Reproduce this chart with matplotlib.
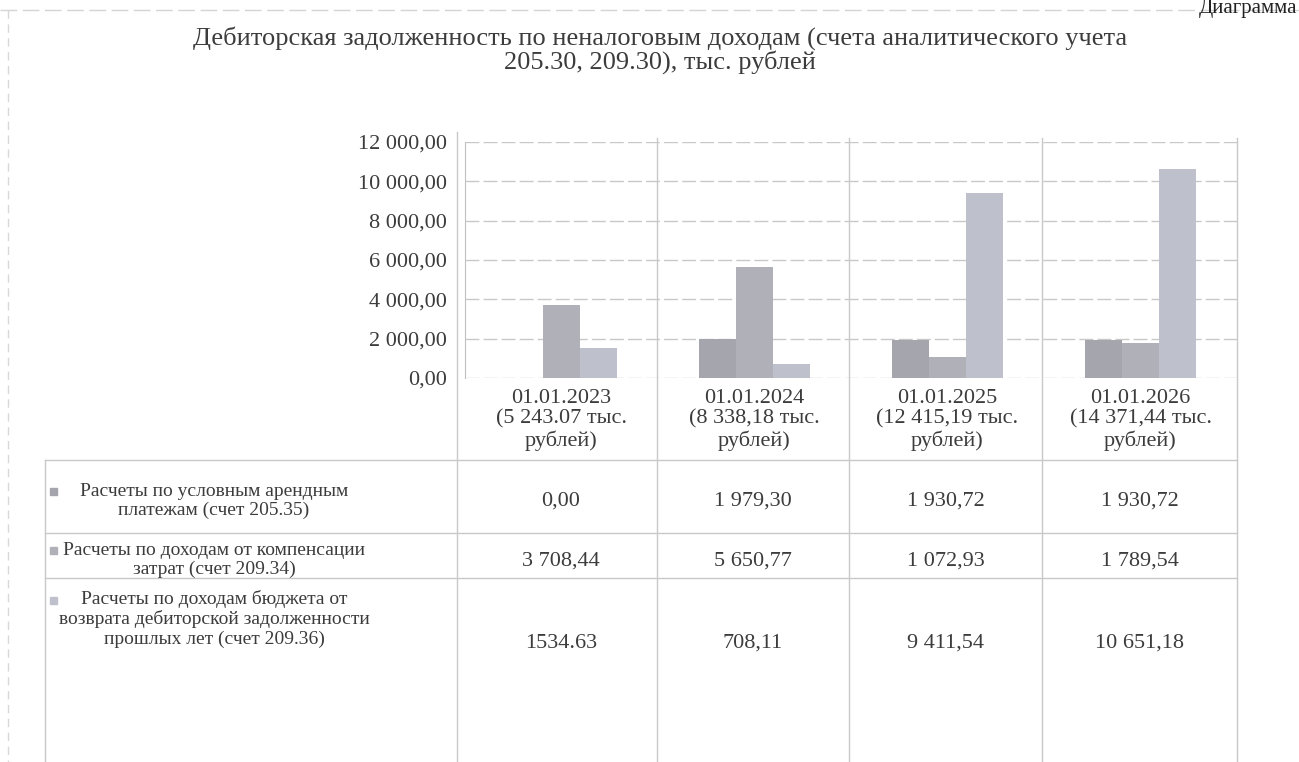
import matplotlib
matplotlib.use("Agg")
import matplotlib.pyplot as plt
from matplotlib.ticker import FuncFormatter, FixedLocator
import numpy as np

# ---- data ----
categories = ["01.01.2023\n(5 243.07 тыс.\nрублей)",
              "01.01.2024\n(8 338,18 тыс.\nрублей)",
              "01.01.2025\n(12 415,19 тыс.\nрублей)",
              "01.01.2026\n(14 371,44 тыс.\nрублей)"]
series_names = ["Расчеты по условным арендным\nплатежам (счет 205.35)",
                "Расчеты по доходам от компенсации\nзатрат (счет 209.34)",
                "Расчеты по доходам бюджета от\nвозврата дебиторской задолженности\nпрошлых лет (счет 209.36)"]
rent = [0.00, 1979.30, 1930.72, 1930.72]
compensation = [3708.44, 5650.77, 1072.93, 1789.54]
past_years = [1534.63, 708.11, 9411.54, 10651.18]
table_text = [["0,00", "1 979,30", "1 930,72", "1 930,72"],
              ["3 708,44", "5 650,77", "1 072,93", "1 789,54"],
              ["1534.63", "708,11", "9 411,54", "10 651,18"]]
title = "Дебиторская задолженность по неналоговым доходам (счета аналитического учета\n205.30, 209.30), тыс. рублей"
header = "Диаграмма"
y_ticks = [0, 2000, 4000, 6000, 8000, 10000, 12000]

# ---- style ----
plt.rcParams['font.family'] = ['Liberation Serif', 'DejaVu Serif']
W, H = 1299, 762
fig = plt.figure(figsize=(W / 100, H / 100), dpi=100)
txt = "#3c3c3c"
line_c = "#c8c8c8"
colors = ["#a5a5ad", "#b0b0b9", "#bec1cc"]

# overlay in pixel coords
ov = fig.add_axes([0, 0, 1, 1])
ov.set_xlim(0, W)
ov.set_ylim(H, 0)
ov.axis("off")

# plot area (pixels)
px_l, px_r, px_t, px_b = 465, 1237, 142, 378
ax = fig.add_axes([px_l / W, 1 - px_b / H, (px_r - px_l) / W, (px_b - px_t) / H])
ax.set_xlim(0, 4)
ax.set_ylim(0, 12000)
x = np.arange(4) + 0.5
bw = 0.192
for i, vals in enumerate([rent, compensation, past_years]):
    ax.bar(x + (i - 1) * bw, vals, width=bw, color=colors[i], edgecolor="none", zorder=3)
ax.yaxis.set_major_locator(FixedLocator(y_ticks))
ax.yaxis.set_major_formatter(FuncFormatter(lambda v, p: f"{v:,.2f}".replace(",", " ").replace(".", ",")))
ax.grid(axis="y", color=line_c, lw=1.0, ls=(0, (10, 3)), zorder=0)
ax.tick_params(axis="y", length=0, labelsize=16, labelcolor=txt, pad=13)
ax.set_xticks(x)
ax.set_xticklabels(categories, fontsize=16, color=txt, linespacing=1.1)
ax.tick_params(axis="x", length=0, pad=8)
for s in ["top", "right", "bottom"]:
    ax.spines[s].set_visible(False)
ax.spines["left"].set_color("#c0c0c0")
ax.patch.set_alpha(0)

# title
fig.text(0.508, 1 - 50 / H, title, ha="center", va="center", fontsize=19,
         color=txt, linespacing=1.0)
# header at the top right (cut off in the scan)
fig.text(1297 / W, 1 - 9 / H, header, ha="right", va="center", fontsize=15, color="#222222")
ov.plot([0, W], [10, 10], color="#d4d4d4", lw=1, ls=(0, (12, 4)))
ov.plot([8, 8], [10, H], color="#d8d8d8", lw=1, ls=(0, (6, 4)))

# data table lines
row_lines = [460, 533, 578]
col_lines = [457, 657, 849, 1042, 1237]
for yv in row_lines:
    ov.plot([45, 1237], [yv, yv], color=line_c, lw=1)
ov.plot([45, 45], [460, H], color=line_c, lw=1)
for i, xv in enumerate(col_lines):
    ov.plot([xv, xv], [132 if i == 0 else 138, H], color=line_c, lw=1)

label_first = [492, 551, 601]
n_lines = [2, 2, 3]
for r in range(3):
    cy = label_first[r] + (n_lines[r] - 1) * 18 / 2
    ov.text(214, cy, series_names[r], ha="center", va="center",
            fontsize=14, color=txt, linespacing=1.15)
    ov.add_patch(plt.Rectangle((50, label_first[r] - 4), 7, 7, color=colors[r], zorder=3))
value_y = [501, 561, 643]
for r in range(3):
    for c in range(4):
        cx = (col_lines[c] + col_lines[c + 1]) / 2 + (4 if c == 0 else 0)
        ov.text(cx, value_y[r], table_text[r][c], ha="center",
                va="center", fontsize=16, color=txt)

fig.savefig("out.png", dpi=100)
